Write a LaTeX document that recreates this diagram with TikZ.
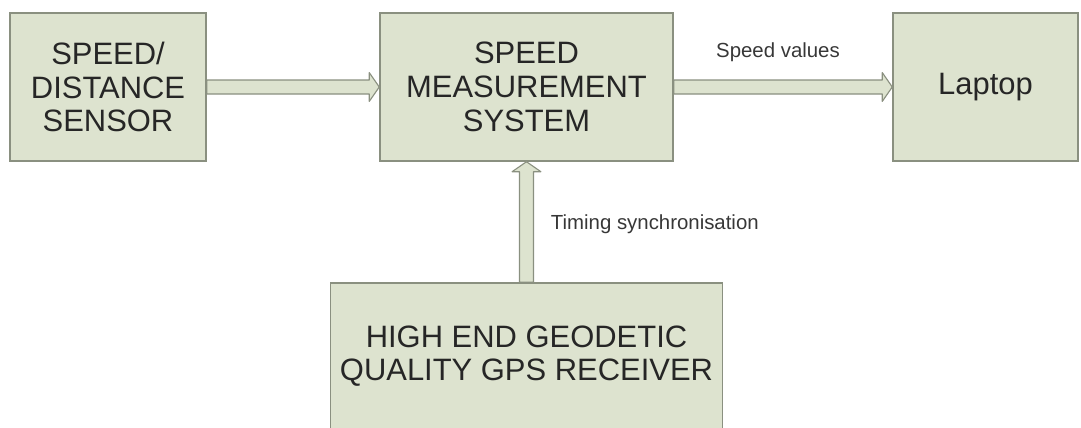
\documentclass[tikz,border=0pt]{standalone}
\usepackage{fontspec}
\setmainfont{Liberation Sans}
\usetikzlibrary{calc}
\definecolor{boxfill}{RGB}{221,227,207}
\definecolor{boxline}{RGB}{138,144,128}
\definecolor{labeltext}{RGB}{55,55,55}
\tikzset{
  block/.style={draw=boxline, fill=boxfill, line width=1pt, align=center, inner sep=0pt,
    font=\fontsize{22}{24}\selectfont, text=black!85},
  % hollow block arrow between two anchors
  flow/.style={draw=boxline, fill=boxfill, line width=0.8pt, line join=round,
    to path={
      ($(\tikztotarget)!0.25cm!(\tikztostart)$) coordinate (nk)
      ($(\tikztostart)!0.175cm!90:(\tikztotarget)$)
      -- ($(nk)!0.175cm!90:(\tikztotarget)$)
      -- ($(nk)!0.36cm!90:(\tikztotarget)$)
      -- (\tikztotarget)
      -- ($(nk)!0.36cm!-90:(\tikztotarget)$)
      -- ($(nk)!0.175cm!-90:(\tikztotarget)$)
      -- ($(\tikztostart)!0.175cm!-90:(\tikztotarget)$)
      -- cycle}},
  lbl/.style={font=\fontsize{14.5}{17}\selectfont, text=labeltext}
}
\begin{document}
\begin{tikzpicture}[x=0.025cm, y=-0.025cm]
  \useasboundingbox (0,0) rectangle (1081,428);
  \begin{scope}
    \node[block, minimum width=4.9cm, minimum height=3.7cm] (sensor) at (108,87) {SPEED/\\DISTANCE\\SENSOR};
    \node[block, minimum width=7.325cm, minimum height=3.7cm] (system) at (526.5,87) {SPEED\\MEASUREMENT\\SYSTEM};
    \node[block, minimum width=4.625cm, minimum height=3.7cm] (laptop) at (985.5,87) {Laptop};
    \node[block, minimum width=9.8cm, minimum height=3.65cm] (gps) at (526.5,356) {HIGH END GEODETIC\\QUALITY GPS RECEIVER};
  \end{scope}
  \draw[flow] (sensor.east) to (system.west);
  \draw[flow] (system.east) to (laptop.west);
  \draw[flow] (gps.north) to (system.south);
  \node[lbl] (speedlbl) at (778,52) {Speed values};
  \node[lbl, anchor=west] (timelbl) at (546,224) {Timing synchronisation};
\end{tikzpicture}
\end{document}
